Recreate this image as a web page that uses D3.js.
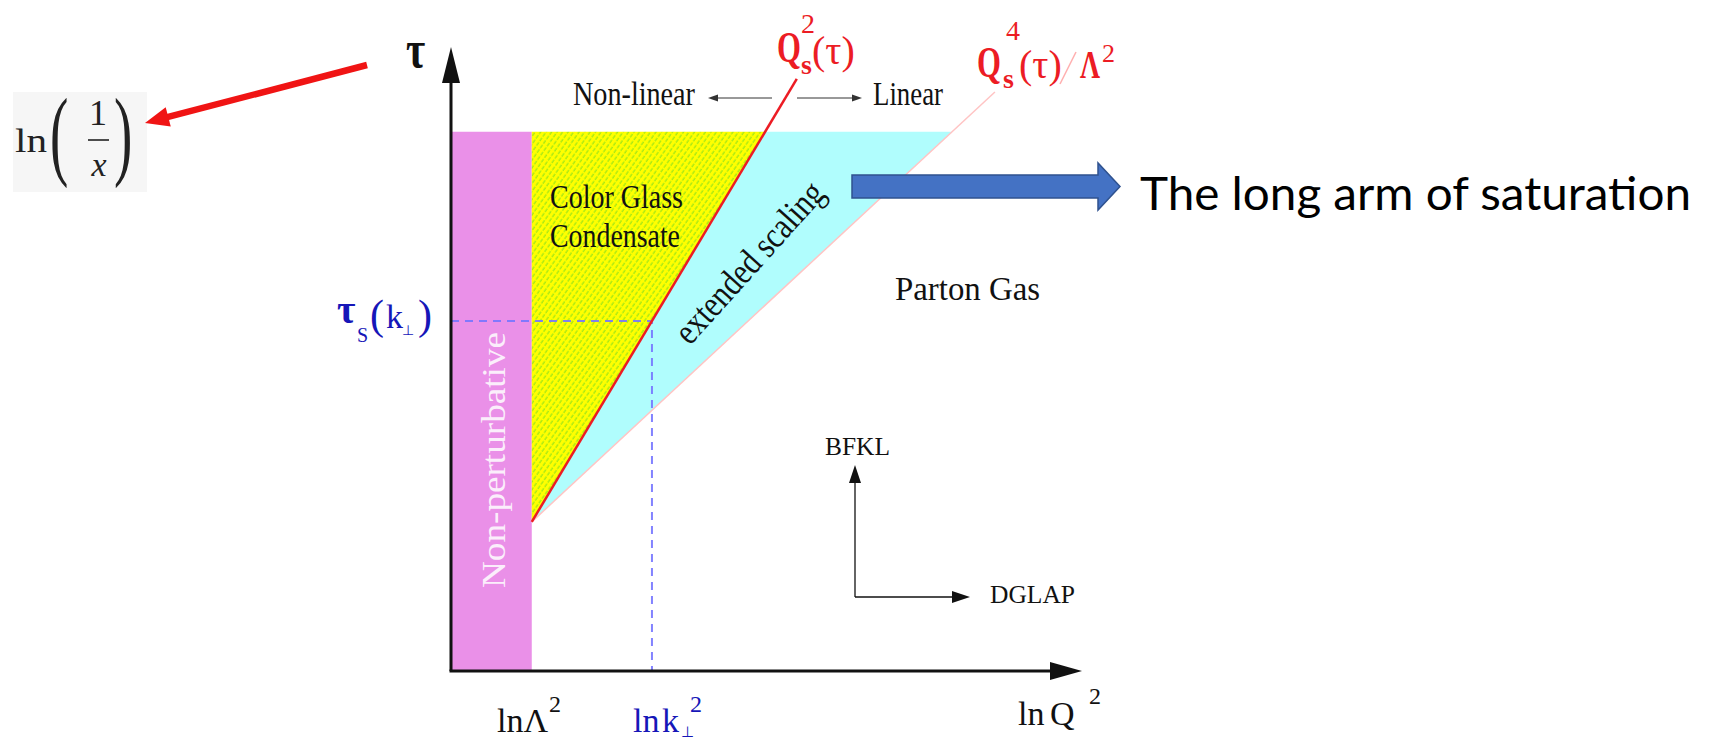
<!DOCTYPE html>
<html>
<head>
<meta charset="utf-8">
<script src="https://cdn.jsdelivr.net/npm/d3@7"></script>
<style>
  html, body { margin: 0; padding: 0; background: #ffffff; }
  svg { display: block; }
</style>
</head>
<body>
<svg id="chart" width="1709" height="742"></svg>
<script>
// ---- schematic values (abstract ln Q^2 / tau units) ----
const xDomain = [0, 100];          // ln Q^2
const yDomain = [0, 100];          // tau = ln(1/x)
const lnLambda2 = 12.8;            // edge of the non-perturbative band
const tauTop = 86.4;               // upper edge of the shaded regions
const tauS = 56.1;                 // tau_s(k_perp)
const qs2Line = [[12.8, 23.9], [54.8, 94.9]];   // Q_s^2(tau)
const qs4Line = [[12.8, 23.9], [86.2, 92.8]];   // Q_s^4(tau)/Lambda^2
const regionLabels = ["Color Glass", "Condensate"];

// ---- layout ----
const svg = d3.select("#chart");
const x = d3.scaleLinear().domain(xDomain).range([451, 1082]);
const y = d3.scaleLinear().domain(yDomain).range([671, 47]);
const serif = "'Liberation Serif', 'Times New Roman', serif";
const red = "#ec1c24";
const blue = "#1616b8";

// x position on a straight boundary line at a given tau
function xAt(line, tau) {
  const [[x0, t0], [x1, t1]] = line;
  return x0 + (x1 - x0) * (tau - t0) / (t1 - t0);
}
const kPerp2 = xAt(qs2Line, tauS);

const defs = svg.append("defs");
const hatch = defs.append("pattern")
  .attr("id", "hatch").attr("patternUnits", "userSpaceOnUse")
  .attr("width", 4.5).attr("height", 11)
  .attr("patternTransform", "rotate(35)");
hatch.append("rect").attr("width", 4.5).attr("height", 11).attr("fill", "#ffff00");
hatch.append("line").attr("x1", 1).attr("y1", 0).attr("x2", 1).attr("y2", 11)
  .attr("stroke", "#5cd426").attr("stroke-width", 0.8).attr("stroke-dasharray", "4,1.5");

const line = d3.line().x(d => x(d[0])).y(d => y(d[1]));
const poly = pts => line(pts) + "Z";

// non-perturbative band
svg.append("path")
  .attr("d", poly([[0, 0], [0, tauTop], [lnLambda2, tauTop], [lnLambda2, 0]]))
  .attr("fill", "#ea90e8");

// extended scaling band
svg.append("path")
  .attr("d", poly([qs2Line[0], [xAt(qs2Line, tauTop), tauTop], [xAt(qs4Line, tauTop), tauTop]]))
  .attr("fill", "#b0fdfd");

// colour glass condensate
svg.append("path")
  .attr("d", poly([[lnLambda2, qs2Line[0][1]], [lnLambda2, tauTop], [xAt(qs2Line, tauTop), tauTop]]))
  .attr("fill", "url(#hatch)");

// Q_s^4/Lambda^2 boundary (faint)
svg.append("path").attr("d", line(qs4Line))
  .attr("fill", "none").attr("stroke", "#ffc4c4").attr("stroke-width", 1.5);

// tau_s(k_perp) guides
svg.append("path").attr("d", line([[0, tauS], [kPerp2, tauS], [kPerp2, 0]]))
  .attr("fill", "none").attr("stroke", "#7676ff").attr("stroke-opacity", 0.9)
  .attr("stroke-width", 2).attr("stroke-dasharray", "8,6");

// saturation line
svg.append("path").attr("d", line(qs2Line))
  .attr("fill", "none").attr("stroke", red).attr("stroke-width", 2.5);

// arrows with triangular heads
function arrow(x1, y1, x2, y2, opts) {
  const o = Object.assign({ color: "#111", width: 3, head: 34, half: 9 }, opts);
  const dx = x2 - x1, dy = y2 - y1, L = Math.hypot(dx, dy);
  const ux = dx / L, uy = dy / L;
  const bx = x2 - ux * o.head, by = y2 - uy * o.head;
  svg.append("line").attr("x1", x1).attr("y1", y1).attr("x2", bx + ux * 2).attr("y2", by + uy * 2)
    .attr("stroke", o.color).attr("stroke-width", o.width);
  svg.append("path")
    .attr("d", `M${x2},${y2}L${bx - uy * o.half},${by + ux * o.half}L${bx + uy * o.half},${by - ux * o.half}Z`)
    .attr("fill", o.color);
}
arrow(x(0), y(0), x(0), y(yDomain[1]), { head: 36 });
arrow(x(0) - 1.5, y(0), x(xDomain[1]), y(0), { head: 32 });

// regime arrows
arrow(855, 597, 855, 465, { width: 1.3, head: 18, half: 6 });
arrow(855, 597, 970, 597, { width: 1.3, head: 18, half: 6 });
arrow(772, 98, 708, 98, { width: 1, head: 10, half: 3.5, color: "#333" });
arrow(797, 98, 862, 98, { width: 1, head: 10, half: 3.5, color: "#333" });

// ---- text ----
function label(px, py, str, o) {
  const t = svg.append("text").attr("x", px).attr("y", py).text(str)
    .attr("font-family", o.family || serif).attr("font-size", o.size)
    .attr("fill", o.color || "#111");
  if (o.len) t.attr("textLength", o.len).attr("lengthAdjust", "spacingAndGlyphs");
  if (o.weight) t.attr("font-weight", o.weight);
  if (o.style) t.attr("font-style", o.style);
  if (o.anchor) t.attr("text-anchor", o.anchor);
  if (o.sx) t.attr("transform", `translate(${px},${py}) scale(${o.sx},${o.sy || 1}) translate(${-px},${-py})`);
  return t;
}
// one text element built from positioned pieces (sub/superscripts)
function mtext(parts, color) {
  const t = svg.append("text").attr("font-family", serif).attr("fill", color || "#111");
  parts.forEach(p => {
    const s = t.append("tspan").attr("x", p[0]).attr("y", p[1]).attr("font-size", p[3]).text(p[2]);
    if (p[4]) s.attr("font-weight", p[4]);
  });
  return t;
}

label(573, 105, "Non-linear", { size: 33, len: 122 });
label(873, 105, "Linear", { size: 33, len: 70 });
label(550, 208, regionLabels[0], { size: 34, len: 133 });
label(550, 247, regionLabels[1], { size: 34, len: 130 });
label(895, 300, "Parton Gas", { size: 34, len: 145 });
label(825, 455, "BFKL", { size: 26, len: 65 });
label(990, 603, "DGLAP", { size: 26, len: 85 });

svg.append("text").text("extended scaling")
  .attr("font-family", serif).attr("font-size", 37).attr("fill", "#111")
  .attr("text-anchor", "middle").attr("dominant-baseline", "central")
  .attr("textLength", 204).attr("lengthAdjust", "spacingAndGlyphs")
  .attr("transform", "translate(749,262) rotate(-48)");

svg.append("text").text("Non-perturbative")
  .attr("font-family", serif).attr("font-size", 34).attr("fill", "#fbeefb")
  .attr("text-anchor", "middle")
  .attr("textLength", 256).attr("lengthAdjust", "spacingAndGlyphs")
  .attr("transform", `translate(${x(lnLambda2) - 27},460) rotate(-90)`);

// axis labels
label(406, 67, "τ", { size: 52, weight: "bold", sx: 0.8 });

mtext([[497, 732, "lnΛ", 34], [549, 712, "2", 24]]);
mtext([[633, 732, "ln", 34], [662, 732, "k", 34], [681, 737, "⊥", 15], [690, 712, "2", 24]], blue);
mtext([[1018, 725, "ln", 34], [1050, 725, "Q", 34], [1089, 704, "2", 24]]);

mtext([[337, 323, "τ", 40, "bold"], [357, 342, "S", 20], [370, 329, "(", 42],
       [386, 328, "k", 34], [402, 335, "⊥", 14], [418, 329, ")", 42]], blue);

// saturation scale labels
label(777, 62, "Q", { size: 44, weight: "bold", color: red, sx: 0.7 });
mtext([[801, 74, "s", 28, "bold"], [801, 33, "2", 28], [812, 64, "(τ)", 40]], red);

label(977, 77, "Q", { size: 44, weight: "bold", color: red, sx: 0.7 });
mtext([[1003, 88, "s", 28, "bold"], [1006, 40, "4", 28], [1019, 78, "(τ)", 40]], red);
svg.append("line").attr("x1", 1060).attr("y1", 84).attr("x2", 1076).attr("y2", 52)
  .attr("stroke", "#ffb0b0").attr("stroke-width", 1.5);
label(1080, 78, "Λ", { size: 40, weight: "bold", color: red, sx: 0.7 });
label(1102, 62, "2", { size: 26, color: red });

// ln(1/x) annotation
svg.append("rect").attr("x", 13).attr("y", 92).attr("width", 134).attr("height", 100)
  .attr("fill", "#f6f6f6");
label(15, 152, "ln", { size: 34, color: "#222", len: 32 });
label(50, 167, "(", { size: 100, color: "#222", sx: 0.55 });
label(98, 125, "1", { size: 36, color: "#222", anchor: "middle" });
svg.append("line").attr("x1", 88).attr("x2", 109).attr("y1", 140).attr("y2", 140)
  .attr("stroke", "#222").attr("stroke-width", 1.6);
label(99, 176, "x", { size: 34, color: "#222", style: "italic", anchor: "middle" });
label(114, 167, ")", { size: 100, color: "#222", sx: 0.55 });

// red pointer
(function () {
  const x1 = 367, y1 = 65, x2 = 145, y2 = 123;
  const dx = x2 - x1, dy = y2 - y1, L = Math.hypot(dx, dy), ux = dx / L, uy = dy / L;
  const head = 24, half = 10, bx = x2 - ux * head, by = y2 - uy * head;
  svg.append("line").attr("x1", x1).attr("y1", y1).attr("x2", bx + ux * 3).attr("y2", by + uy * 3)
    .attr("stroke", "#f01414").attr("stroke-width", 6.5);
  svg.append("path")
    .attr("d", `M${x2},${y2}L${bx - uy * half},${by + ux * half}L${bx + uy * half},${by - ux * half}Z`)
    .attr("fill", "#f01414");
})();

// block arrow and caption
svg.append("path")
  .attr("d", "M852,175L1098,175L1098,163L1120,186.5L1098,210L1098,198L852,198Z")
  .attr("fill", "#4472c4").attr("stroke", "#2f528f").attr("stroke-width", 1.5);
label(1140, 210, "The long arm of saturation", { size: 46, family: "Lato, 'Open Sans', sans-serif", color: "#000", len: 551 });
</script>
</body>
</html>
